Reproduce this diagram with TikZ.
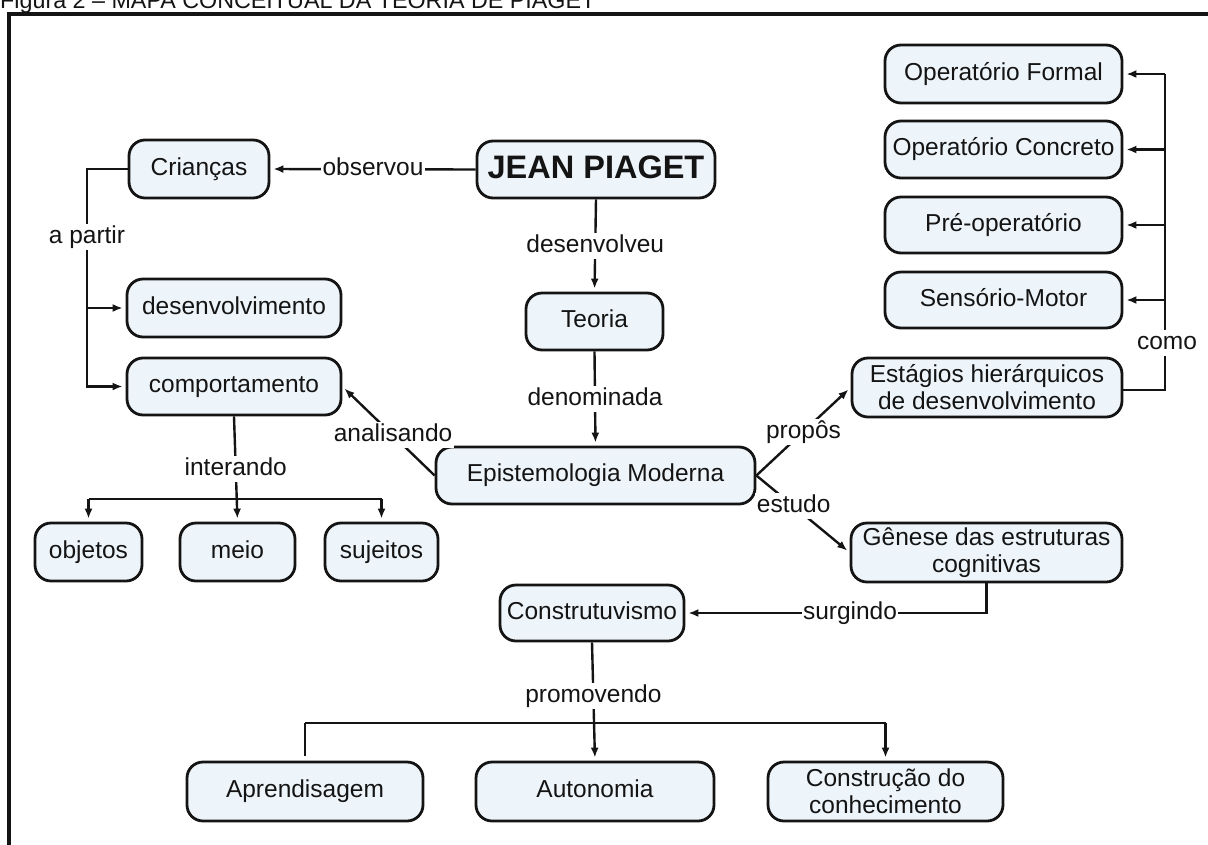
\documentclass[tikz,border=0pt]{standalone}
\usepackage{fontspec}
\setmainfont{Liberation Sans}
\usetikzlibrary{arrows.meta}
\definecolor{boxfill}{RGB}{238,245,250}
\definecolor{ink}{RGB}{20,20,20}
\tikzset{
  cbox/.style={draw=ink, line width=2.8pt, rounded corners=16pt, fill=boxfill, inner sep=0pt, align=center, text=ink,
    font=\fontsize{24.5}{27}\selectfont},
  one/.style={text height=18pt, text depth=6pt},
  lbl/.style={fill=white, inner sep=1.5pt, text=ink, font=\fontsize{24.5}{27}\selectfont, text height=18pt, text depth=5pt},
  conn/.style={draw=ink, line width=2.4pt},
  arr/.style={conn, -{Latex[length=10pt,width=8pt]}, shorten >=3pt}
}
\begin{document}
\begin{tikzpicture}[x=1pt,y=-1pt]
\useasboundingbox (0,0) rectangle (1208,844);
% title (cut off at top) and frame
\node[anchor=base west, inner sep=0pt, text=ink, font=\fontsize{23.3}{28}\selectfont] (title) at (0,8) {Figura 2 – MAPA CONCEITUAL DA TEORIA DE PIAGET};
\draw[ink, line width=3.2pt] (9,860) -- (9,14) -- (1220,14);

% nodes
\node[cbox, minimum width=238pt, minimum height=57pt, text height=24pt, text depth=7pt, font=\bfseries\fontsize{32.5}{36}\selectfont] (jp) at (596,169.5) {JEAN PIAGET};
\node[cbox, one, minimum width=140pt, minimum height=58pt] (cri) at (199,169) {Crianças};
\node[cbox, one, minimum width=214pt, minimum height=58pt] (desv) at (234,308) {desenvolvimento};
\node[cbox, one, minimum width=214pt, minimum height=57pt] (comp) at (234,386.5) {comportamento};
\node[cbox, one, minimum width=137pt, minimum height=57pt] (teo) at (594.5,321.5) {Teoria};
\node[cbox, one, minimum width=319pt, minimum height=57pt] (epi) at (595.5,475.5) {Epistemologia Moderna};
\node[cbox, one, minimum width=107pt, minimum height=58pt] (obj) at (88.5,552) {objetos};
\node[cbox, one, minimum width=115pt, minimum height=58pt] (meio) at (237.5,552) {meio};
\node[cbox, one, minimum width=113pt, minimum height=58pt] (suj) at (381.5,552) {sujeitos};
\node[cbox, one, minimum width=237pt, minimum height=58pt] (opf) at (1003.5,74) {Operatório Formal};
\node[cbox, one, minimum width=237pt, minimum height=57pt] (opc) at (1003.5,149.5) {Operatório Concreto};
\node[cbox, one, minimum width=237pt, minimum height=56pt] (pre) at (1003.5,225) {Pré-operatório};
\node[cbox, one, minimum width=237pt, minimum height=56pt] (sen) at (1003.5,300) {Sensório-Motor};
\node[cbox, minimum width=270pt, minimum height=59pt] (est) at (987,387.5) {Estágios hierárquicos\\de desenvolvimento};
\node[cbox, minimum width=271pt, minimum height=59pt] (gen) at (986.5,552.5) {Gênese das estruturas\\cognitivas};
\node[cbox, one, minimum width=184pt, minimum height=56pt] (cons) at (592,613) {Construtuvismo};
\node[cbox, one, minimum width=236pt, minimum height=59pt] (apr) at (305,791.5) {Aprendisagem};
\node[cbox, one, minimum width=238pt, minimum height=59pt] (auto) at (595,791.5) {Autonomia};
\node[cbox, minimum width=235pt, minimum height=59pt] (con) at (885.5,791.5) {Construção do\\conhecimento};

% helper coordinates
\coordinate (apx) at (87,169);
\coordinate (il) at (88.5,499);
\coordinate (ir) at (381.5,499);
\coordinate (vtop) at (1165,74);
\coordinate (vbot) at (1165,390);
\coordinate (hl) at (305,723);
\coordinate (hr) at (885.5,723);

% connectors
\draw[arr] (jp.west) -- node[lbl] (lobs) {observou} (cri.east);
\draw[arr] (cri.west) -- (apx) |- (comp.west);
\draw[arr] (apx) |- (desv.west);
\node[lbl] (lap) at (87,237) {a partir};
\draw[arr] (jp.south) -- node[lbl] (ldes) {desenvolveu} (teo.north);
\draw[arr] (teo.south) -- node[lbl] (lden) {denominada} (epi.north);
\draw[arr] (epi.west) -- node[lbl, pos=0.45] (lana) {analisando} (comp.east);
\draw[arr] (comp.south) -- node[lbl] (lint) {interando} (meio.north);
\draw[conn] (il) -- (ir);
\draw[arr] (il) -- (obj.north);
\draw[arr] (ir) -- (suj.north);
\draw[arr] (epi.east) -- node[lbl] (lpro) {propôs} (est.west);
\draw[arr] (epi.east) -- node[lbl, pos=0.4] (lest) {estudo} (gen.west);
\draw[conn] (est.east |- vbot) -- (vbot) -- (vtop);
\draw[arr] (vtop) -- (opf.east);
\draw[arr] (opc.east -| vtop) -- (opc.east);
\draw[arr] (pre.east -| vtop) -- (pre.east);
\draw[arr] (sen.east -| vtop) -- (sen.east);
\node[lbl] (lcomo) at (1167,343) {como};
\draw[arr] (gen.south) |- (cons.east);
\node[lbl] (lsur) at (850,613) {surgindo};
\draw[arr] (cons.south) -- node[lbl, pos=0.45] (lprom) {promovendo} (auto.north);
\draw[conn, shorten >=5pt] (hl) -- (apr.north);
\draw[conn] (hl) -- (hr);
\draw[arr] (hr) -- (con.north);
\end{tikzpicture}
\end{document}
